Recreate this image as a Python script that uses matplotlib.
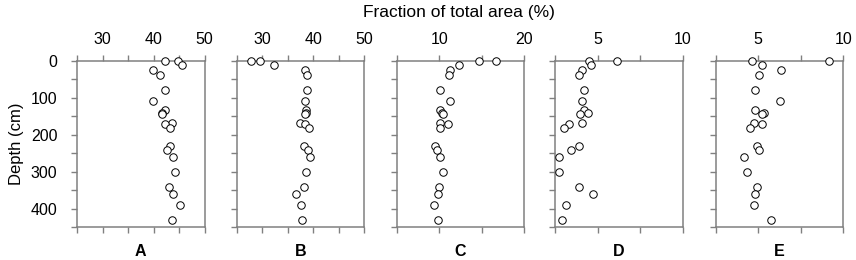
import matplotlib.pyplot as plt
import numpy as np

plt.rcParams['font.family'] = ['Liberation Sans', 'DejaVu Sans']

# sampling depths (cm), shared by all panels
depth = [0, 0, 10, 25, 37, 79, 109, 134, 140, 145, 169, 172, 181,
         230, 241, 261, 302, 341, 361, 391, 431]

frac_a = [42.2, 44.8, 45.6, 39.9, 41.2, 42.2, 39.9, 42.2, 41.7, 41.6, 43.7, 42.2, 43.3,
          43.3, 42.7, 43.8, 44.2, 43.1, 43.9, 45.2, 43.7]
frac_b = [27.9, 29.5, 32.3, 38.4, 38.7, 38.7, 38.4, 38.6, 38.5, 38.4, 37.5, 38.4, 39.1,
          38.2, 38.9, 39.4, 38.5, 38.1, 36.7, 37.7, 37.8]
frac_c = [14.7, 16.7, 12.3, 11.3, 11.1, 10.1, 11.3, 10.1, 10.3, 10.5, 10.1, 11.0, 10.1,
          9.5, 9.8, 10.1, 10.4, 10.0, 9.9, 9.4, 9.9]
frac_d = [4.51, 6.17, 4.63, 4.10, 3.93, 4.20, 4.10, 4.22, 4.44, 3.99, 4.10, 3.35, 3.00,
          3.93, 3.42, 2.74, 2.74, 3.93, 4.71, 3.13, 2.92]
frac_e = [4.65, 9.18, 5.23, 6.32, 5.04, 4.81, 6.30, 4.81, 5.33, 5.21, 4.73, 5.21, 4.51,
          4.92, 5.04, 4.14, 4.32, 4.94, 4.81, 4.73, 5.74]

panels = ['A', 'B', 'C', 'D', 'E']
series = [frac_a, frac_b, frac_c, frac_d, frac_e]
xlims = [(25, 50), (25, 50), (5, 20), (2.5, 10), (2.5, 10)]
xticks = [[25, 30, 35, 40, 45, 50], [25, 30, 35, 40, 45, 50], [5, 10, 15, 20],
          [2.5, 5, 7.5, 10], [2.5, 5, 7.5, 10]]
xlabels = [[30, 40, 50], [30, 40, 50], [10, 20], [5, 10], [5, 10]]

W, H = 856, 260
fig = plt.figure(figsize=(W / 100, H / 100), dpi=100)
lefts = [77, 236.7, 396.7, 555, 715.7]
gray = '#808080'

for i, ax_left in enumerate(lefts):
    ax = fig.add_axes([ax_left / W, 1 - 227 / H, 127.5 / W, 166 / H])
    ax.plot(series[i], depth, 'o', ms=5.4, mfc='white', mec='black', mew=0.7,
            clip_on=False, zorder=5)
    ax.set_xlim(*xlims[i])
    ax.set_ylim(450, 0)
    ax.set_xticks(xticks[i])
    ax.set_xticklabels([str(t) if t in xlabels[i] else '' for t in xticks[i]])
    ax.set_yticks(np.arange(0, 451, 50))
    if i == 0:
        ax.set_yticklabels([str(t) if t % 100 == 0 else '' for t in range(0, 451, 50)])
        ax.set_ylabel('Depth (cm)', fontsize=12, labelpad=5)
    else:
        ax.set_yticklabels([])
    ax.tick_params(axis='x', top=True, bottom=True, labeltop=True, labelbottom=False,
                   direction='out', length=4, width=1, color=gray, pad=6, labelsize=11.5)
    ax.tick_params(axis='y', left=True, right=False, direction='out', length=4,
                   width=1, color=gray, pad=10, labelsize=11.5)
    for s in ax.spines.values():
        s.set_color(gray)
        s.set_linewidth(1.1)
    ax.text(0.5, -0.15, panels[i], transform=ax.transAxes, ha='center', va='center',
            fontsize=11.5, fontweight='bold')

fig.text(459 / W, 1 - 13 / H, 'Fraction of total area (%)', ha='center', va='center',
         fontsize=12.5)

fig.savefig('out.png', dpi=100)
